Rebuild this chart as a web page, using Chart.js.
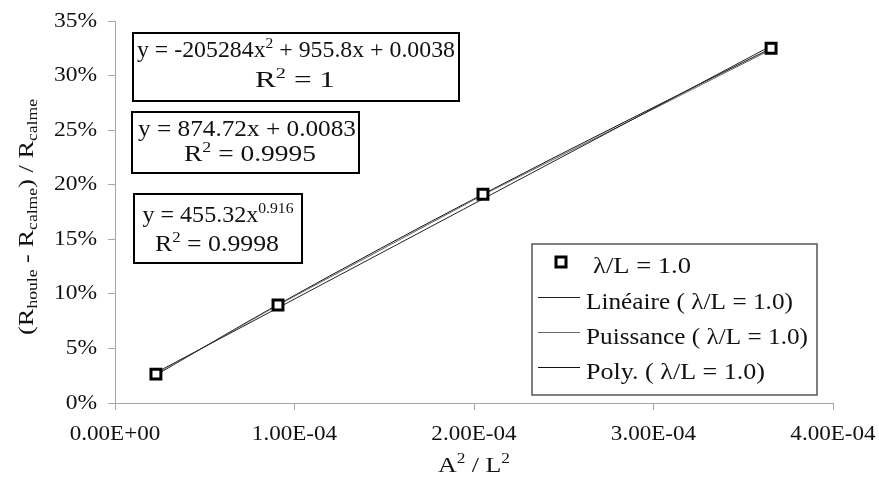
<!DOCTYPE html>
<html>
<head>
<meta charset="utf-8">
<script src="https://cdn.jsdelivr.net/npm/chart.js@4.4.0/dist/chart.umd.min.js"></script>
<style>
  html, body { margin: 0; padding: 0; background: #fff; }
  #wrap { width: 879px; height: 482px; }
</style>
</head>
<body>
<div id="wrap"><canvas id="chart"></canvas></div>
<script>
// ---------------- DATA ----------------
const xValues = [2.28e-5, 9.08e-5, 2.05e-4, 3.655e-4];
const yValues = [0.0265, 0.0898, 0.1913, 0.3250];

// trend lines
const linearX = [2.28e-5, 3.655e-4];
const linearY = [0.0278, 0.3272];
const powerX = [2.28e-5, 9.08e-5, 2.05e-4, 3.655e-4];
const powerY = [0.0262, 0.0897, 0.1906, 0.3238];
const polyX = [2.28e-5, 9.08e-5, 2.05e-4, 3.655e-4];
const polyY = [0.0256, 0.0902, 0.1913, 0.3250];

const xTickValues = [0, 1e-4, 2e-4, 3e-4, 4e-4];
const xTickLabels = ["0.00E+00", "1.00E-04", "2.00E-04", "3.00E-04", "4.00E-04"];
const yTickValues = [0, 0.05, 0.10, 0.15, 0.20, 0.25, 0.30, 0.35];
const yTickLabels = ["0%", "5%", "10%", "15%", "20%", "25%", "30%", "35%"];

const seriesLabels = ["λ/L = 1.0", "Linéaire ( λ/L = 1.0)", "Puissance ( λ/L = 1.0)", "Poly. ( λ/L = 1.0)"];

const FONT = "'Liberation Serif', 'Times New Roman', serif";

const toPoints = (xs, ys) => xs.map((x, i) => ({ x: x, y: ys[i] }));

// ---------------- RICH TEXT ----------------
// parts: [text, mode] with mode "" | "sup" | "sub"
function richWidth(ctx, parts, size) {
    let w = 0;
    parts.forEach(([t, m]) => {
        ctx.font = `${m ? Math.round(size * 0.65) : size}px ${FONT}`;
        w += ctx.measureText(t).width;
    });
    return w;
}

// draws text at x (left / center / right), stretched to fitW or by factor sxFactor
function drawRich(ctx, parts, x, y, size, align, fitW, sxFactor) {
    const w = richWidth(ctx, parts, size);
    const sx = fitW ? fitW / w : (sxFactor || 1);
    const total = w * sx;
    let start = x;
    if (align === "center") start = x - total / 2;
    if (align === "right") start = x - total;
    ctx.save();
    ctx.translate(start, y);
    ctx.scale(sx, 1);
    ctx.textAlign = "left";
    ctx.textBaseline = "middle";
    let cx = 0;
    parts.forEach(([t, m]) => {
        const s = m ? Math.round(size * 0.65) : size;
        ctx.font = `${s}px ${FONT}`;
        let dy = 0;
        if (m === "sup") dy = -size * 0.3;
        if (m === "sub") dy = size * 0.28;
        ctx.fillText(t, cx, dy);
        cx += ctx.measureText(t).width;
    });
    ctx.restore();
}

// ---------------- ANNOTATIONS ----------------
const eqBoxes = [
    { box: [133, 33, 326, 68], lines: [
        { parts: [["y = -205284x", ""], ["2", "sup"], [" + 955.8x + 0.0038", ""]], x: 296, y: 51, w: 318 },
        { parts: [["R", ""], ["2", "sup"], [" = 1", ""]], x: 295, y: 81, w: 80 }
    ]},
    { box: [132, 112, 227, 61], lines: [
        { parts: [["y = 874.72x + 0.0083", ""]], x: 247, y: 130, w: 218 },
        { parts: [["R", ""], ["2", "sup"], [" = 0.9995", ""]], x: 250, y: 155, w: 132 }
    ]},
    { box: [134, 194, 168, 69], lines: [
        { parts: [["y = 455.32x", ""], ["0.916", "sup"]], x: 218, y: 216, w: 151 },
        { parts: [["R", ""], ["2", "sup"], [" = 0.9998", ""]], x: 217, y: 245, w: 124 }
    ]}
];

const legendRows = [267, 303, 338, 373];
const legendFit = [98, 207, 222, 179];

const annotPlugin = {
    id: "annot",
    afterDraw(chart) {
        const ctx = chart.ctx;
        const xs = chart.scales.x, ys = chart.scales.y;
        ctx.save();
        ctx.fillStyle = "#111";

        // tick labels
        xTickValues.forEach((v, i) => {
            drawRich(ctx, [[xTickLabels[i], ""]], xs.getPixelForValue(v), 434, 21, "center", null, 1.1);
        });
        yTickValues.forEach((v, i) => {
            drawRich(ctx, [[yTickLabels[i], ""]], 97, ys.getPixelForValue(v), 21, "right", null, 1.12);
        });

        // equation boxes
        eqBoxes.forEach(b => {
            const [bx, by, bw, bh] = b.box;
            ctx.fillStyle = "#fff";
            ctx.fillRect(bx, by, bw, bh);
            ctx.strokeStyle = "#000";
            ctx.lineWidth = 2;
            ctx.strokeRect(bx, by, bw, bh);
            ctx.fillStyle = "#111";
            b.lines.forEach(l => drawRich(ctx, l.parts, l.x, l.y, 23, "center", l.w));
        });

        // legend
        const lx = 532, ly = 244, lw = 285, lh = 151;
        ctx.fillStyle = "#fff";
        ctx.fillRect(lx, ly, lw, lh);
        ctx.strokeStyle = "#555";
        ctx.lineWidth = 1.5;
        ctx.strokeRect(lx, ly, lw, lh);
        chart.data.datasets.forEach((ds, i) => {
            const y = legendRows[i];
            ctx.fillStyle = "#111";
            if (i === 0) {
                ctx.strokeStyle = "#000";
                ctx.lineWidth = 3;
                ctx.fillStyle = "#fff";
                ctx.fillRect(556, y - 10, 10, 10);
                ctx.strokeRect(556, y - 10, 10, 10);
                ctx.fillStyle = "#111";
                drawRich(ctx, [[ds.label, ""]], 593, y, 23, "left", legendFit[i]);
            } else {
                ctx.strokeStyle = ds.borderColor;
                ctx.lineWidth = 1;
                ctx.beginPath();
                ctx.moveTo(538, y - 5.5);
                ctx.lineTo(580, y - 5.5);
                ctx.stroke();
                drawRich(ctx, [[ds.label, ""]], 586, y, 23, "left", legendFit[i]);
            }
        });

        // axis titles
        ctx.fillStyle = "#111";
        drawRich(ctx, [["A", ""], ["2", "sup"], [" / L", ""], ["2", "sup"]], 474, 466, 21, "center", 72);
        ctx.translate(27, 217);
        ctx.rotate(-Math.PI / 2);
        drawRich(ctx, [["(R", ""], ["houle", "sub"], [" - R", ""], ["calme", "sub"], [") / R", ""], ["calme", "sub"]],
            0, 0, 21, "center", 236);
        ctx.restore();
    }
};

// ---------------- CHART ----------------
const axisColor = "#a6a6a6";

new Chart(document.getElementById("chart"), {
    type: "scatter",
    data: {
        datasets: [
            {
                label: seriesLabels[0],
                data: toPoints(xValues, yValues),
                showLine: false,
                pointStyle: "rect",
                pointRadius: 7,
                pointBorderWidth: 3,
                borderColor: "#000",
                backgroundColor: "#fff"
            },
            {
                label: seriesLabels[1],
                data: toPoints(linearX, linearY),
                showLine: true,
                borderColor: "#222",
                borderWidth: 1,
                pointRadius: 0
            },
            {
                label: seriesLabels[2],
                data: toPoints(powerX, powerY),
                showLine: true,
                borderColor: "#666",
                borderWidth: 1,
                pointRadius: 0
            },
            {
                label: seriesLabels[3],
                data: toPoints(polyX, polyY),
                showLine: true,
                borderColor: "#111",
                borderWidth: 1,
                cubicInterpolationMode: "monotone",
                pointRadius: 0
            }
        ]
    },
    options: {
        responsive: true,
        maintainAspectRatio: false,
        animation: false,
        devicePixelRatio: 1,
        layout: { padding: { left: 0, top: 21, right: 46, bottom: 0 } },
        plugins: {
            legend: { display: false },
            tooltip: { enabled: false },
            title: { display: false }
        },
        scales: {
            x: {
                type: "linear",
                min: 0,
                max: 4e-4,
                afterFit: scale => { scale.height = 79; },
                afterBuildTicks: scale => {
                    scale.ticks = xTickValues.map(v => ({ value: v }));
                },
                ticks: { display: false },
                grid: { drawOnChartArea: false, color: axisColor, tickLength: 7 },
                border: { color: axisColor, width: 1 }
            },
            y: {
                min: 0,
                max: 0.35,
                afterFit: scale => { scale.width = 115; },
                afterBuildTicks: scale => {
                    scale.ticks = yTickValues.map(v => ({ value: v }));
                },
                ticks: { display: false },
                grid: { drawOnChartArea: false, color: axisColor, tickLength: 7 },
                border: { color: axisColor, width: 1 }
            }
        }
    },
    plugins: [annotPlugin]
});
</script>
</body>
</html>
